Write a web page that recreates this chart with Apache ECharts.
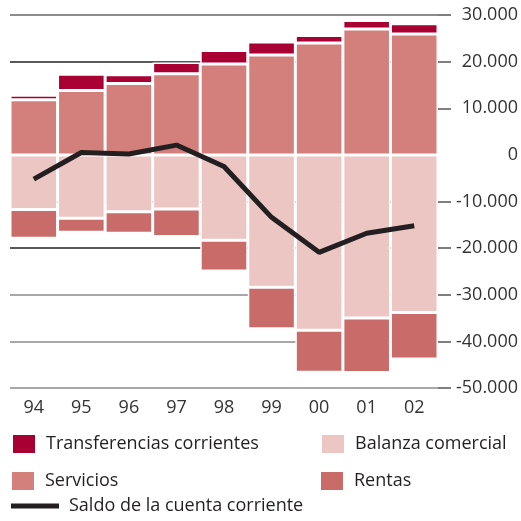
<!DOCTYPE html>
<html>
<head>
<meta charset="utf-8">
<script src="https://cdn.jsdelivr.net/npm/echarts@6/dist/echarts.min.js"></script>
<style>
  html, body { margin: 0; padding: 0; background: #fff; }
  #chart { width: 521px; height: 521px; }
</style>
</head>
<body>
<div id="chart"></div>
<script>
// years on the x axis
var years = ["94", "95", "96", "97", "98", "99", "00", "01", "02"];

// stacked components (millions)
var servicios = [11800, 13800, 15300, 17400, 19500, 21400, 24000, 27000, 25900];
var transferencias = [1000, 3500, 1900, 2400, 2900, 2800, 1600, 1800, 2200];
var balanza = [-11700, -13600, -12200, -11600, -18300, -28400, -37600, -35000, -33800];
var rentas = [-6200, -3000, -4600, -5900, -6600, -8900, -9000, -11700, -10000];

// current account balance
var saldo = [-5200, 500, 200, 2100, -2500, -13400, -20900, -16800, -15200];

var yTicks = { min: -50000, max: 30000, step: 10000 };
// tick marks on the right side (none at zero)
var tickMarks = [-50000, -40000, -30000, -20000, -10000, 10000, 20000, 30000];

function fmt(v) {
  var s = Math.abs(v).toString().replace(/\B(?=(\d{3})+(?!\d))/g, ".");
  return (v < 0 ? "-" : "") + s;
}

var font = "'Open Sans', sans-serif";
var barBorder = { borderColor: "#fff", borderWidth: 1.5 };

function legendAt(name, left, top, w, h) {
  return {
    data: [{ name: name, icon: "rect" }],
    left: left,
    top: top,
    itemWidth: w,
    itemHeight: h,
    selectedMode: false,
    padding: 0,
    textStyle: {
      fontFamily: font,
      fontSize: 18,
      color: "#231f20",
      padding: [0, 0, 0, 5]
    }
  };
}

var chart = echarts.init(document.getElementById("chart"));
chart.setOption({
  animation: false,
  backgroundColor: "#fff",
  grid: { left: 10, right: 83, top: 15, bottom: 133, outerBoundsMode: "none" },
  legend: [
    legendAt("Transferencias corrientes", 11, 433, 24, 20),
    legendAt("Balanza comercial", 320, 433, 24, 20),
    legendAt("Servicios", 10, 470, 24, 20),
    legendAt("Rentas", 319, 470, 24, 20),
    legendAt("Saldo de la cuenta corriente", 11, 497, 48, 5)
  ],
  xAxis: {
    type: "category",
    data: years,
    axisLine: { show: false },
    axisTick: { show: false },
    axisLabel: {
      fontFamily: font,
      fontSize: 18,
      color: "#333",
      margin: 11
    }
  },
  yAxis: {
    type: "value",
    position: "right",
    min: yTicks.min,
    max: yTicks.max,
    interval: yTicks.step,
    axisLine: { show: false },
    axisTick: {
      show: true,
      length: 13,
      customValues: tickMarks,
      lineStyle: { color: "#555", width: 1.5 }
    },
    splitLine: {
      show: true,
      lineStyle: {
        width: 1.5,
        color: ["#8a8a8a", "#8a8a8a", "#8a8a8a", "#222", "#222", "rgba(0,0,0,0)", "#222", "#666", "#8a8a8a"]
      }
    },
    axisLabel: {
      fontFamily: font,
      fontSize: 18,
      color: "#333",
      align: "right",
      margin: 80,
      formatter: fmt
    }
  },
  series: [
    {
      name: "Servicios",
      type: "bar",
      stack: "total",
      barCategoryGap: "0%",
      data: servicios,
      itemStyle: Object.assign({ color: "#d3807c" }, barBorder)
    },
    {
      name: "Transferencias corrientes",
      type: "bar",
      stack: "total",
      data: transferencias,
      itemStyle: Object.assign({ color: "#a80032" }, barBorder)
    },
    {
      name: "Balanza comercial",
      type: "bar",
      stack: "total",
      data: balanza,
      itemStyle: Object.assign({ color: "#ecc6c2" }, barBorder)
    },
    {
      name: "Rentas",
      type: "bar",
      stack: "total",
      data: rentas,
      itemStyle: Object.assign({ color: "#c86b69" }, barBorder)
    },
    {
      name: "Saldo de la cuenta corriente",
      type: "line",
      data: saldo,
      symbol: "none",
      z: 5,
      itemStyle: { color: "#231f20" },
      lineStyle: { color: "#231f20", width: 5 }
    }
  ]
});
</script>
</body>
</html>
